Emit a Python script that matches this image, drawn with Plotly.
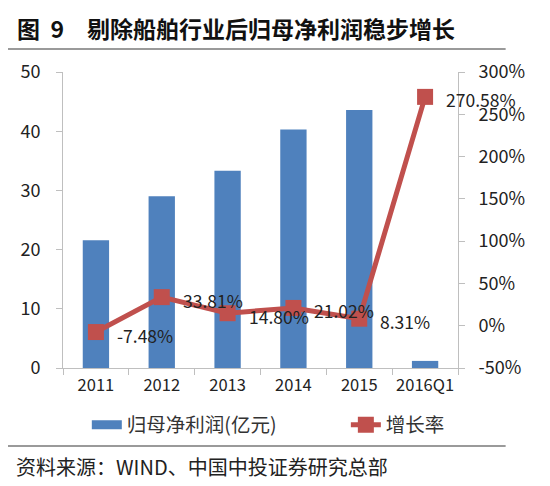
import plotly.graph_objects as go

categories = ["2011", "2012", "2013", "2014", "2015", "2016Q1"]
profit = [21.6, 29.0, 33.3, 40.3, 43.6, 1.2]
growth = [-7.48, 33.81, 14.80, 21.02, 8.31, 270.58]
growth_labels = ["-7.48%", "33.81%", "14.80%", "21.02%", "8.31%", "270.58%"]
left_ticks = [0, 10, 20, 30, 40, 50]
right_ticks = [-50, 0, 50, 100, 150, 200, 250, 300]

FONT = "Noto Sans CJK SC, Microsoft YaHei, sans-serif"
OFF = 8  # default body margin of the page
W, H = 550 - OFF, 486 - OFF
L, R, T, B = 60 - OFF, 458 - OFF, 72 - OFF, 368 - OFF

def px(x):
    return (x - OFF - L) / (R - L)

def py(y):
    return (B - (y - OFF)) / (B - T)

fig = go.Figure()
fig.add_trace(go.Bar(
    x=categories, y=profit, name="归母净利润(亿元)",
    marker=dict(color="#4F81BD", line=dict(width=0)),
    yaxis="y", showlegend=False,
))
fig.add_trace(go.Scatter(
    x=categories[:1], y=[None], name="归母净利润(亿元)", mode="lines",
    line=dict(color="#4F81BD", width=9), legend="legend", showlegend=True,
))
fig.add_trace(go.Scatter(
    x=categories, y=growth, name="增长率",
    mode="lines+markers",
    line=dict(color="#C0504D", width=5),
    marker=dict(symbol="square", size=16, color="#C0504D"),
    yaxis="y2", cliponaxis=False, legend="legend2",
))

annotations = [
    dict(xref="paper", yref="paper", x=px(12), y=py(28), xanchor="left", yanchor="middle",
         text="<b>图  9</b>", showarrow=False, font=dict(size=23, family=FONT, color="#111")),
    dict(xref="paper", yref="paper", x=px(82), y=py(28), xanchor="left", yanchor="middle",
         text="<b>剔除船舶行业后归母净利润稳步增长</b>", showarrow=False,
         font=dict(size=23, family=FONT, color="#111")),
    dict(xref="paper", yref="paper", x=px(11), y=py(466), xanchor="left", yanchor="middle",
         text="资料来源：WIND、中国中投证券研究总部", showarrow=False,
         font=dict(size=20, family=FONT, color="#222")),
]
for i, (g, t) in enumerate(zip(growth, growth_labels)):
    annotations.append(dict(x=i, y=g, xref="x", yref="y2", text=t, showarrow=False,
                            xanchor="left", yanchor="middle", xshift=19, yshift=-3,
                            font=dict(size=17.5, family=FONT, color="#222")))

fig.update_layout(
    width=W, height=H,
    margin=dict(l=L, r=W - R, t=T, b=H - B),
    paper_bgcolor="white", plot_bgcolor="white",
    font=dict(family=FONT, size=17, color="#222"),
    bargap=0.6,
    legend=dict(orientation="h", x=px(84), xanchor="left", y=py(425), yanchor="middle",
                font=dict(size=19.5, family=FONT, color="#333"), bgcolor="rgba(0,0,0,0)"),
    legend2=dict(orientation="h", x=px(345), xanchor="left", y=py(425), yanchor="middle",
                 font=dict(size=19.5, family=FONT, color="#333"), bgcolor="rgba(0,0,0,0)"),
    xaxis=dict(type="category", categoryarray=categories, categoryorder="array",
               range=[-0.5, len(categories) - 0.5], tickangle=0,
               showline=True, linecolor="#BFBFBF", linewidth=1,
               ticks="outside", tickson="boundaries", ticklen=6, tickcolor="#BFBFBF",
               tickfont=dict(size=16.5), showgrid=False, ticklabelstandoff=2),
    yaxis=dict(range=[0, 50], tickvals=left_ticks, showline=True, linecolor="#BFBFBF",
               ticks="outside", ticklen=6, tickcolor="#BFBFBF", showgrid=False, zeroline=False,
               tickfont=dict(size=18), ticklabelstandoff=12),
    yaxis2=dict(range=[-50, 300], tickvals=right_ticks,
                ticktext=[f"{v}%" for v in right_ticks],
                overlaying="y", side="right", showline=True, linecolor="#BFBFBF",
                ticks="outside", ticklen=6, tickcolor="#BFBFBF", showgrid=False, zeroline=False,
                tickfont=dict(size=18), ticklabelstandoff=10),
    shapes=[
        dict(type="line", xref="paper", yref="paper", x0=px(0), x1=px(506), y0=py(49), y1=py(49),
             line=dict(color="#9A9A9A", width=2)),
        dict(type="line", xref="paper", yref="paper", x0=px(0), x1=px(506), y0=py(446), y1=py(446),
             line=dict(color="#9A9A9A", width=2)),
    ],
    annotations=annotations,
)

fig.write_html("out.html")
